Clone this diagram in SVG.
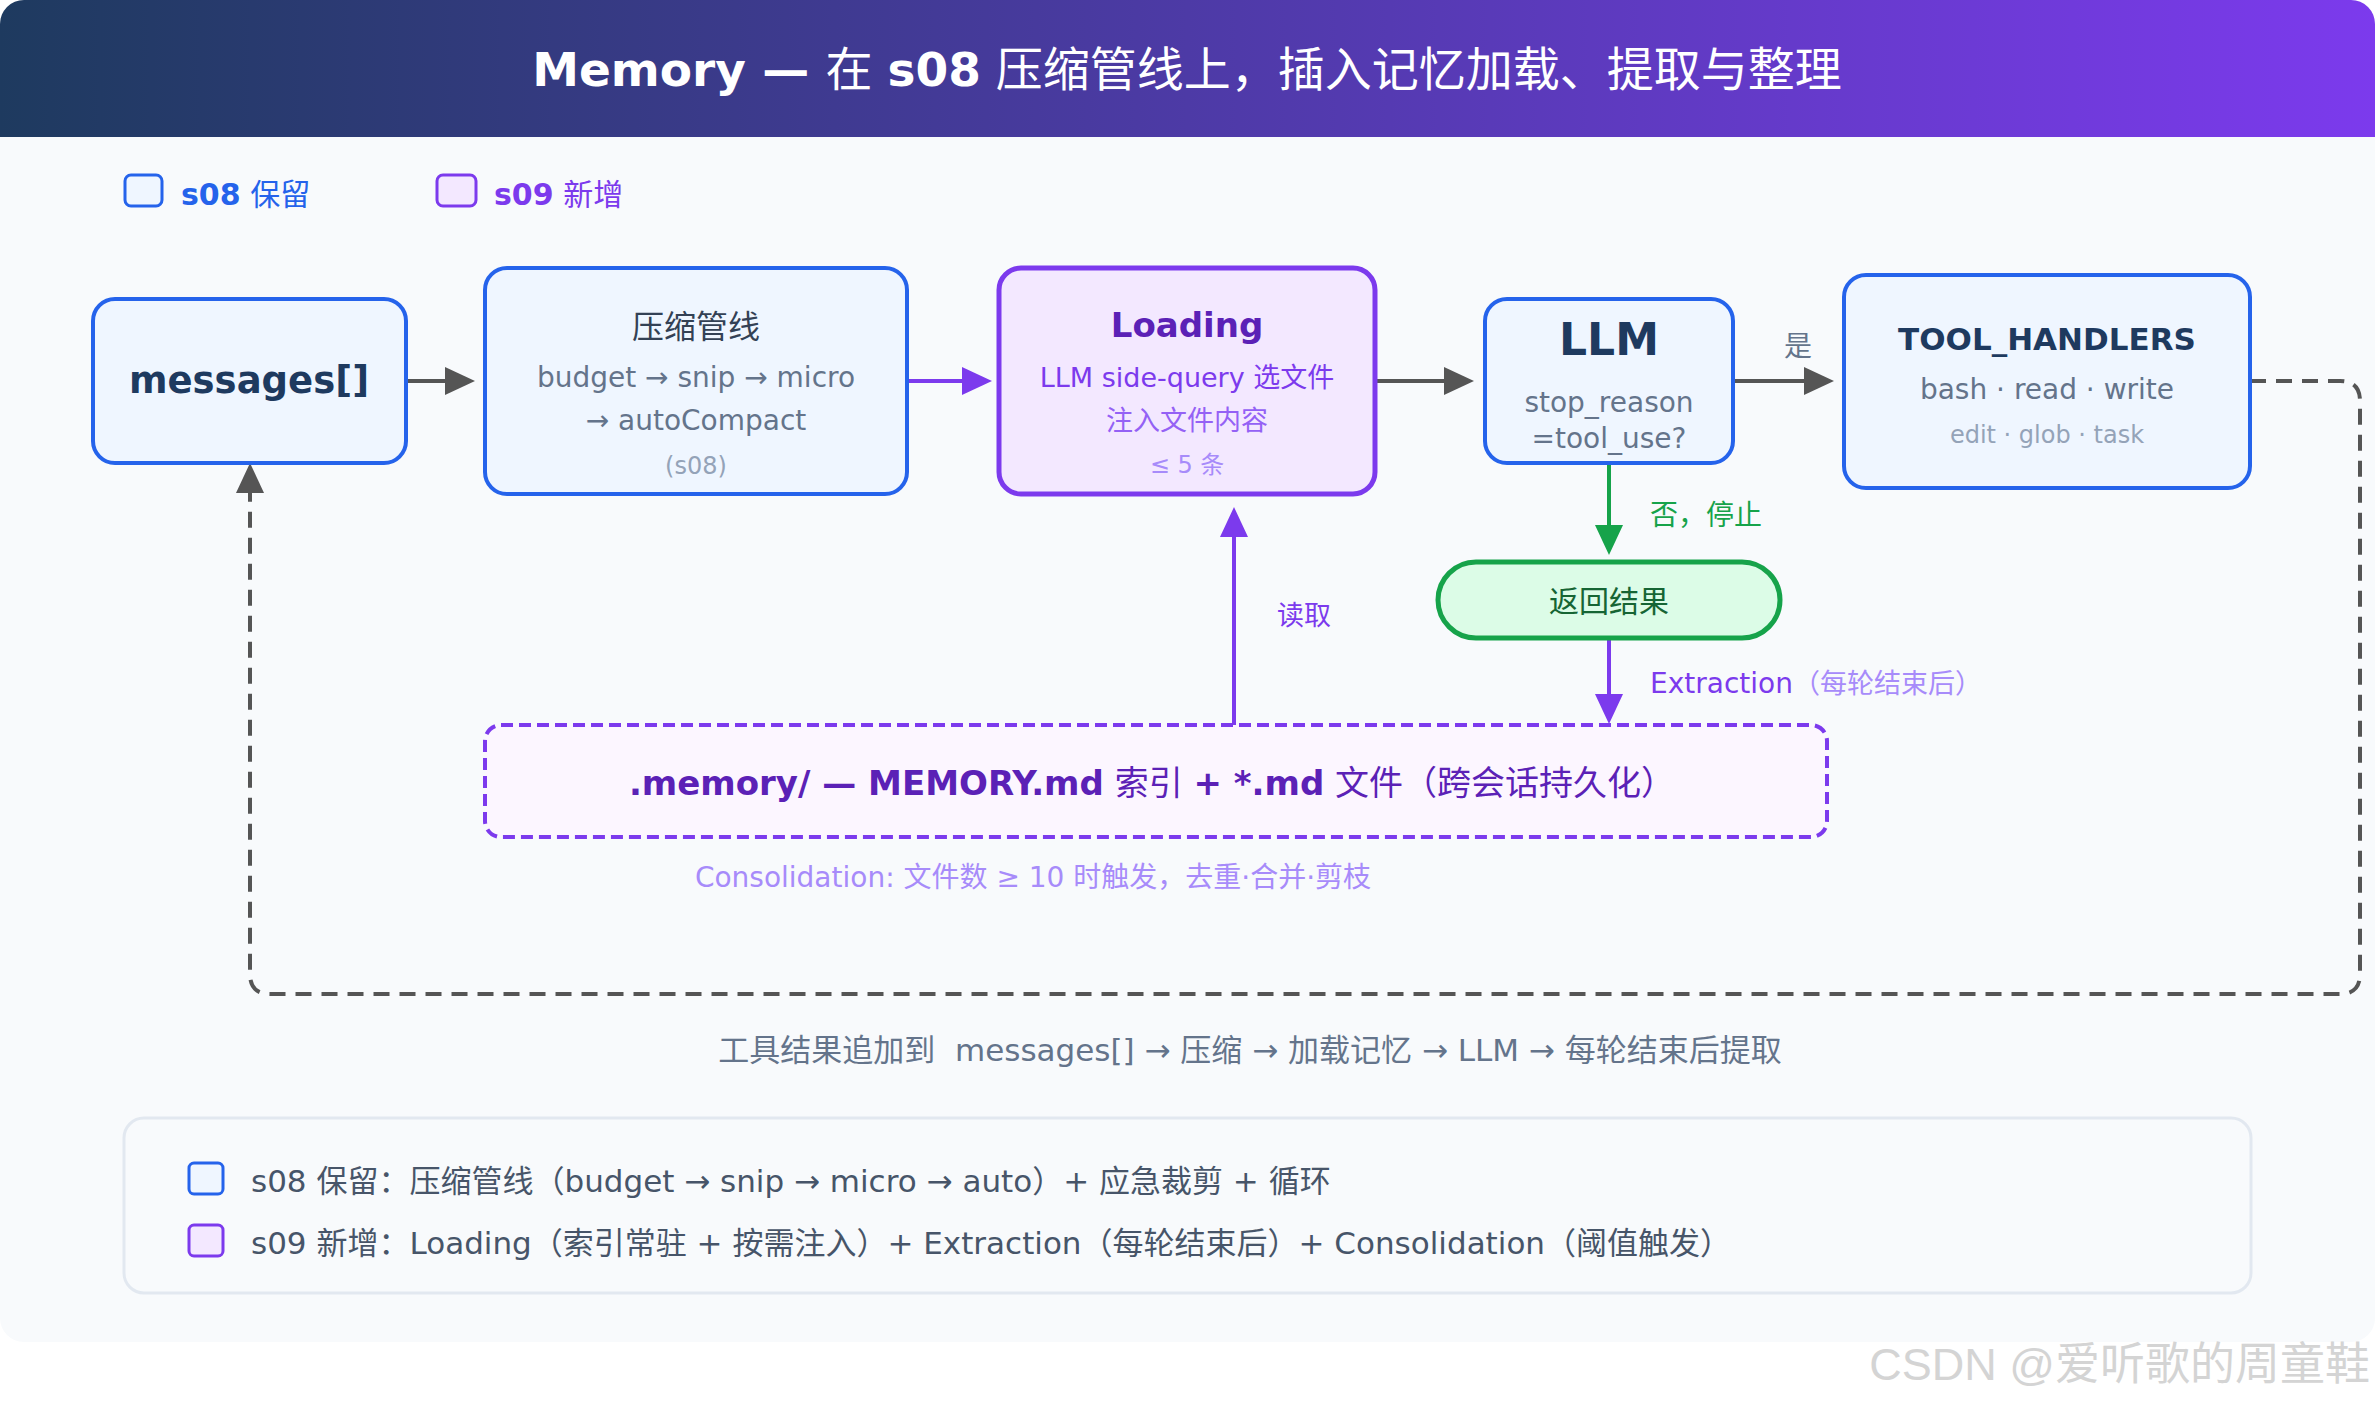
<svg xmlns="http://www.w3.org/2000/svg" width="2375" height="1403" viewBox="0 0 2375 1403">
<style>
text{font-family:"DejaVu Sans","Noto Sans CJK SC",sans-serif}
.b{font-weight:bold}
.c{text-anchor:middle}
.blue{fill:#eff6ff;stroke:#2563eb;stroke-width:4}
.purple{fill:#f3e8ff;stroke:#7c3aed;stroke-width:5}
.sub{fill:#64748b;font-size:28px}
.muted{fill:#94a3b8;font-size:24px}
.dark{fill:#1e3a5f}
.gl{fill:none;stroke:#555555;stroke-width:4}
.pl{fill:none;stroke:#7c3aed;stroke-width:4}
.grl{fill:none;stroke:#16a34a;stroke-width:4}
</style>
<defs>
<linearGradient id="hdr" x1="0" y1="0" x2="1" y2="0">
<stop offset="0" stop-color="#1e3a5f"/>
<stop offset="1" stop-color="#7c3aed"/>
</linearGradient>
<clipPath id="panelClip"><rect x="0" y="0" width="2375" height="1342" rx="24"/></clipPath>
<marker id="ag" markerUnits="userSpaceOnUse" markerWidth="30" markerHeight="28" viewBox="0 0 30 28" refX="2" refY="14" orient="auto"><path d="M0,0 L30,14 L0,28 z" fill="#555555"/></marker>
<marker id="ap" markerUnits="userSpaceOnUse" markerWidth="30" markerHeight="28" viewBox="0 0 30 28" refX="2" refY="14" orient="auto"><path d="M0,0 L30,14 L0,28 z" fill="#7c3aed"/></marker>
<marker id="agr" markerUnits="userSpaceOnUse" markerWidth="30" markerHeight="28" viewBox="0 0 30 28" refX="2" refY="14" orient="auto"><path d="M0,0 L30,14 L0,28 z" fill="#16a34a"/></marker>
</defs>
<rect x="0" y="0" width="2375" height="1403" fill="#ffffff"/>
<rect x="0" y="0" width="2375" height="1342" rx="24" fill="#f8fafc"/>
<rect x="0" y="0" width="2375" height="137" fill="url(#hdr)" clip-path="url(#panelClip)"/>
<text class="c" x="1187" y="86" font-size="47" fill="#ffffff"><tspan class="b">Memory — </tspan>在 <tspan class="b">s08</tspan> 压缩管线上，插入记忆加载、提取与整理</text>

<g id="legend">
<rect x="125" y="175" width="37" height="31" rx="6" fill="#eff6ff" stroke="#2563eb" stroke-width="3"/>
<text x="181" y="205" font-size="30" fill="#2563eb"><tspan class="b">s08</tspan> 保留</text>
<rect x="437" y="175" width="39" height="31" rx="6" fill="#f3e8ff" stroke="#7c3aed" stroke-width="3"/>
<text x="494" y="205" font-size="30" fill="#7c3aed"><tspan class="b">s09</tspan> 新增</text>
</g>

<g id="connectors">
<path class="gl" d="M406,381 H447" marker-end="url(#ag)"/>
<path class="pl" d="M907,381 H964" marker-end="url(#ap)"/>
<path class="gl" d="M1375,381 H1446" marker-end="url(#ag)"/>
<path class="gl" d="M1733,381 H1806" marker-end="url(#ag)"/>
<path class="grl" d="M1609,463 V527" marker-end="url(#agr)"/>
<path class="pl" d="M1609,638 V696" marker-end="url(#ap)"/>
<path class="pl" d="M1234,725 V535" marker-end="url(#ap)"/>
<path class="gl" stroke-dasharray="16 10" d="M2250,381 H2340 Q2360,381 2360,401 V974 Q2360,994 2340,994 H270 Q250,994 250,974 V491" marker-end="url(#ag)"/>
<text x="1784" y="356" font-size="28" fill="#64748b">是</text>
<text x="1650" y="525" font-size="28" fill="#16a34a">否，停止</text>
<text x="1277" y="625" font-size="27" fill="#7c3aed">读取</text>
<text x="1650" y="693" font-size="28" fill="#7c3aed">Extraction<tspan font-size="27" fill="#a78bfa">（每轮结束后）</tspan></text>
</g>

<g id="node-messages">
<rect class="blue" x="93" y="299" width="313" height="164" rx="22"/>
<text class="c b dark" x="249" y="393" font-size="37">messages[]</text>
</g>

<g id="node-compress">
<rect class="blue" x="485" y="268" width="422" height="226" rx="22"/>
<text class="c" x="696" y="338" font-size="32" fill="#334155">压缩管线</text>
<text class="c sub" x="696" y="387">budget → snip → micro</text>
<text class="c sub" x="696" y="430">→ autoCompact</text>
<text class="c muted" x="696" y="474">(s08)</text>
</g>

<g id="node-loading">
<rect class="purple" x="999" y="268" width="376" height="226" rx="22"/>
<text class="c b" x="1187" y="337" font-size="34" fill="#5b21b6">Loading</text>
<text class="c" x="1187" y="387" font-size="27" fill="#7c3aed">LLM side-query 选文件</text>
<text class="c" x="1187" y="430" font-size="27" fill="#9461f5">注入文件内容</text>
<text class="c" x="1187" y="473" font-size="24" fill="#a78bfa">≤ 5 条</text>
</g>

<g id="node-llm">
<rect class="blue" x="1485" y="299" width="248" height="164" rx="22"/>
<text class="c b dark" x="1609" y="355" font-size="44">LLM</text>
<text class="c sub" x="1609" y="412">stop_reason</text>
<text class="c sub" x="1609" y="448">=tool_use?</text>
</g>

<g id="node-tools">
<rect class="blue" x="1844" y="275" width="406" height="213" rx="22"/>
<text class="c b dark" x="2047" y="350" font-size="31">TOOL_HANDLERS</text>
<text class="c sub" x="2047" y="399">bash · read · write</text>
<text class="c muted" x="2047" y="443">edit · glob · task</text>
</g>

<g id="node-return">
<rect x="1438" y="562" width="342" height="76" rx="38" fill="#dcfce7" stroke="#16a34a" stroke-width="5"/>
<text class="c" x="1609" y="612" font-size="30" fill="#166534">返回结果</text>
</g>

<g id="node-memory">
<rect x="485" y="725" width="1342" height="112" rx="16" fill="#fcf6ff" stroke="#7c3aed" stroke-width="4" stroke-dasharray="12 6"/>
<text class="c" x="1152" y="795" font-size="34" fill="#5b21b6"><tspan class="b">.memory/ — MEMORY.md</tspan> 索引 <tspan class="b">+ *.md</tspan> 文件（跨会话持久化）</text>
<text class="c" x="1033" y="887" font-size="28" fill="#a78bfa">Consolidation: 文件数 ≥ 10 时触发，去重·合并·剪枝</text>
</g>

<text class="c" x="1250" y="1061" font-size="31" fill="#64748b">工具结果追加到&#160; messages[] → 压缩 → 加载记忆 → LLM → 每轮结束后提取</text>

<g id="summary">
<rect x="124" y="1118" width="2127" height="175" rx="20" fill="#f8fafc" stroke="#e2e8f0" stroke-width="3"/>
<rect x="189" y="1163" width="34" height="31" rx="5" fill="#eff6ff" stroke="#2563eb" stroke-width="3"/>
<text x="251" y="1192" font-size="31" fill="#475569">s08 保留：压缩管线（budget → snip → micro → auto）+ 应急裁剪 + 循环</text>
<rect x="189" y="1225" width="34" height="31" rx="5" fill="#f3e8ff" stroke="#7c3aed" stroke-width="3"/>
<text x="251" y="1254" font-size="31" fill="#475569">s09 新增：Loading（索引常驻 + 按需注入）+ Extraction（每轮结束后）+ Consolidation（阈值触发）</text>
</g>

<text x="2370" y="1380" font-size="45" fill="#d4d4d4" text-anchor="end" style="font-family:'Liberation Sans','Noto Sans CJK SC',sans-serif">CSDN @爱听歌的周童鞋</text>
</svg>
